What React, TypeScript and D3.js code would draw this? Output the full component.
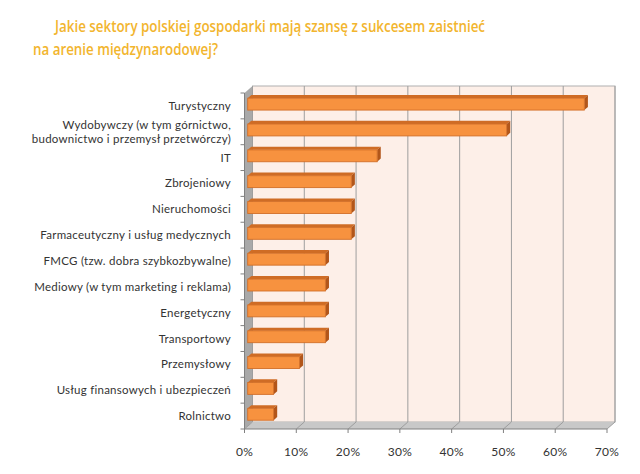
import React from "react";
import * as d3 from "d3";

const titleLines = [
  "Jakie sektory polskiej gospodarki mają szansę z sukcesem zaistnieć",
  "na arenie międzynarodowej?",
];
const categories = [
  "Turystyczny",
  "Wydobywczy (w tym górnictwo,|budownictwo  i przemysł przetwórczy)",
  "IT",
  "Zbrojeniowy",
  "Nieruchomości",
  "Farmaceutyczny i usług medycznych",
  "FMCG (tzw.  dobra szybkozbywalne)",
  "Mediowy (w tym marketing  i reklama)",
  "Energetyczny",
  "Transportowy",
  "Przemysłowy",
  "Usług finansowych i ubezpieczeń",
  "Rolnictwo",
];
const values = [65, 50, 25, 20, 20, 20, 15, 15, 15, 15, 10, 5, 5];
const ticks = [0, 10, 20, 30, 40, 50, 60, 70];

export default function App() {
  const W = 640, H = 474;
  const x = d3.scaleLinear().domain([0, 70]).range([244.5, 607]);
  const y = d3.scaleBand<string>().domain(categories).range([93, 429]).paddingInner(0.54).paddingOuter(0.27);
  const band = d3.scaleBand<string>().domain(categories).range([93, 429]);
  const DX = 8, DY = -7;
  const x0 = x(0), x1 = x(70), yTop = 93, yBot = 429;
  const pts = (a: number[][]) => a.map((p) => p.join(",")).join(" ");
  const bf = 0.4, bb = 0.85;

  return (
    <div style={{ position: "absolute", left: 0, top: 0 }}>
      <svg width={W} height={H} style={{ display: "block" }}>
        <rect width={W} height={H} fill="#ffffff" />
        {titleLines.map((t, i) => (
          <text
            key={i}
            x={i === 0 ? 55 : 33}
            y={i === 0 ? 32 : 55}
            fontFamily="'Open Sans', sans-serif"
            fontWeight={600}
            fontSize={16}
            fill="#F2B52E"
            textLength={i === 0 ? 430 : 185}
            lengthAdjust="spacingAndGlyphs"
          >
            {t}
          </text>
        ))}
        <rect x={x0 + DX} y={yTop + DY} width={x1 - x0} height={yBot - yTop} fill="#FDEFE8" stroke="#B0B0B0" strokeWidth={1} />
        <polygon points={pts([[x0, yTop], [x0 + DX, yTop + DY], [x0 + DX, yBot + DY], [x0, yBot]])} fill="#A9A9A9" />
        <polygon points={pts([[x0, yBot], [x0 + DX, yBot + DY], [x1 + DX, yBot + DY], [x1, yBot]])} fill="#C8C8C8" />
        {ticks.map((t) => (
          <g key={t}>
            <line x1={x(t) + DX} x2={x(t) + DX} y1={yTop + DY} y2={yBot + DY} stroke="#9E9E9E" strokeWidth={1} />
            <line x1={x(t)} x2={x(t) + DX} y1={yBot} y2={yBot + DY} stroke="#9E9E9E" strokeWidth={1} />
            <line x1={x(t)} x2={x(t)} y1={yBot} y2={yBot + 4} stroke="#808080" />
            <text x={x(t)} y={yBot + 27} textAnchor="middle" fontFamily="Lato, sans-serif" fontSize={12} letterSpacing={0.3} fill="#333">
              {t}%
            </text>
          </g>
        ))}
        <line x1={x0} x2={x1} y1={yBot} y2={yBot} stroke="#808080" />
        <line x1={x0} x2={x0} y1={yTop} y2={yBot} stroke="#808080" />
        {categories.map((c, i) => {
          const yy = band(c)!;
          return <line key={"t" + i} x1={x0 - 4} x2={x0} y1={yy} y2={yy} stroke="#808080" />;
        })}
        <line x1={x0 - 4} x2={x0} y1={yBot} y2={yBot} stroke="#808080" />
        {categories.map((c, i) => {
          const v = values[i];
          const fx = bf * DX, fy = bf * DY;
          const bx = bb * DX, by = bb * DY;
          const yt = y(c)! + fy + 1;
          const h = y.bandwidth();
          const xa = x(0) + fx, xb = x(v) + fx;
          const ddx = bx - fx, ddy = by - fy;
          return (
            <g key={c}>
              <polygon points={pts([[xa, yt], [xa + ddx, yt + ddy], [xb + ddx, yt + ddy], [xb, yt]])} fill="#CF6C25" />
              <polygon points={pts([[xb, yt], [xb + ddx, yt + ddy], [xb + ddx, yt + ddy + h], [xb, yt + h]])} fill="#B2561A" />
              <rect x={xa} y={yt} width={xb - xa} height={h} fill="#F7923F" stroke="#D26F28" strokeWidth={0.9} />
            </g>
          );
        })}
        {categories.map((c) => {
          const lines = c.split("|");
          const cy = band(c)! + band.bandwidth() / 2;
          return (
            <text key={c} textAnchor="end" fontFamily="Lato, sans-serif" fontSize={11.5} letterSpacing={0.25} fill="#333">
              {lines.map((l, j) => (
                <tspan key={j} x={231} y={cy + 4 + (j - (lines.length - 1) / 2) * 14.5}>
                  {l}
                </tspan>
              ))}
            </text>
          );
        })}
      </svg>
    </div>
  );
}
